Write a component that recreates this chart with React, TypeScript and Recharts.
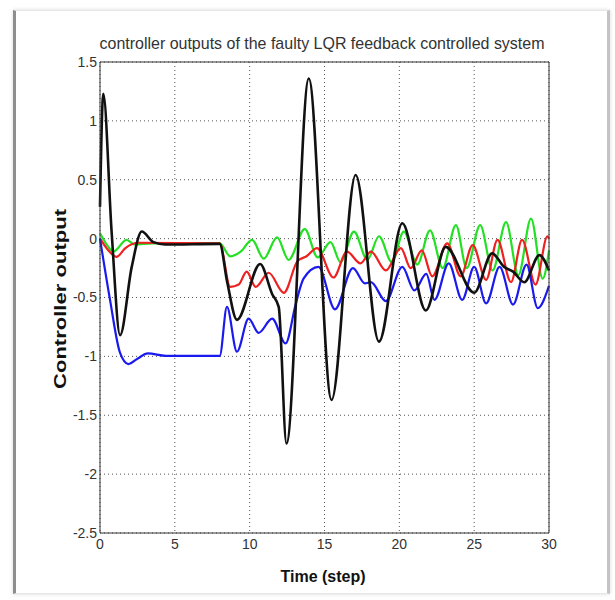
import { CartesianGrid, Line, LineChart, XAxis, YAxis } from "recharts";

// tick values
const xTicks = [0, 5, 10, 15, 20, 25, 30];
const yTicks = [-2.5, -2, -1.5, -1, -0.5, 0, 0.5, 1, 1.5];

// series (time step -> controller output)
const blackX = [0, 0.22, 0.78, 1.34, 2.12, 2.79, 3.57, 4.35, 8.0, 8.5, 9.15, 10.7, 11.5, 11.94, 12.46, 13.95, 15.47, 17.08, 18.64, 20.2, 21.77, 23.1, 25.0, 26.2, 27.0, 27.6, 28.35, 29.36, 30];
const blackY = [0.27, 1.23, 0.05, -0.82, -0.24, 0.06, -0.03, -0.05, -0.045, -0.37, -0.69, -0.215, -0.47, -0.58, -1.74, 1.36, -1.37, 0.54, -0.875, 0.13, -0.61, -0.07, -0.46, -0.125, -0.24, -0.28, -0.37, -0.14, -0.27];

const blueX = [0, 0.67, 1.34, 1.9, 2.5, 3.2, 4.4, 8.0, 8.48, 9.15, 9.93, 10.6, 11.5, 12.4, 13.07, 13.6, 14.6, 15.7, 16.9, 17.7, 18.1, 19.1, 20.2, 21.0, 21.8, 22.35, 23.3, 24.2, 25.0, 25.8, 26.7, 27.6, 28.5, 29.25, 30];
const blueY = [0, -0.52, -0.97, -1.065, -1.02, -0.975, -0.995, -0.995, -0.58, -0.96, -0.68, -0.8, -0.68, -0.89, -0.56, -0.34, -0.24, -0.6, -0.25, -0.38, -0.37, -0.53, -0.24, -0.44, -0.3, -0.52, -0.21, -0.52, -0.24, -0.55, -0.24, -0.56, -0.22, -0.59, -0.4];

const redX = [0, 0.5, 1.1, 1.7, 2.57, 8.0, 8.7, 9.27, 9.8, 10.4, 11.27, 12.28, 13.2, 13.8, 14.5, 15.6, 16.5, 17.4, 18.1, 19.1, 20.1, 20.76, 21.5, 22.2, 23.2, 24.1, 24.9, 25.8, 26.56, 27.46, 28.2, 29.1, 29.9, 30];
const redY = [0, -0.09, -0.155, -0.08, -0.035, -0.04, -0.41, -0.39, -0.28, -0.41, -0.29, -0.46, -0.19, -0.15, -0.08, -0.33, -0.11, -0.21, -0.11, -0.27, -0.08, -0.25, -0.1, -0.32, -0.04, -0.32, -0.055, -0.35, -0.01, -0.37, -0.01, -0.39, 0.02, 0];

const greenX = [0, 0.5, 0.9, 1.78, 2.3, 3.5, 8.0, 8.7, 9.4, 10.16, 10.94, 11.83, 12.6, 13.68, 14.55, 15.4, 16.07, 16.97, 17.86, 18.64, 19.5, 20.3, 21.2, 22.05, 22.9, 23.78, 24.5, 25.4, 26.23, 27.13, 27.95, 28.8, 29.58, 30];
const greenY = [0.045, -0.06, -0.11, -0.01, -0.05, -0.04, -0.04, -0.15, -0.11, -0.01, -0.17, 0.01, -0.18, 0.08, -0.16, -0.03, -0.2, 0.06, -0.18, 0.02, -0.2, 0.06, -0.22, 0.07, -0.25, 0.115, -0.25, 0.115, -0.27, 0.14, -0.31, 0.17, -0.34, -0.1];

const zip = (xs: number[], ys: number[]) => xs.map((x, i) => ({ x, y: ys[i] }));

const tickFont = { fontFamily: "Liberation Sans, Arial, sans-serif", fontSize: 14, fill: "#333" };

export default function App() {
  return (
    <div style={{ position: "absolute", left: 0, top: 0, width: 615, height: 600, background: "#fff" }}>
      {/* page frame */}
      <div
        style={{
          position: "absolute",
          left: 13,
          top: 10,
          width: 591,
          height: 582,
          borderLeft: "3px solid #8e8e8e",
          borderRight: "3px solid #c4c4c4",
          borderTop: "1px solid #e6e6e6",
          borderBottom: "1px solid #e6e6e6",
          boxShadow: "0 0 4px rgba(0,0,0,0.15)",
        }}
      />
      <div style={{ position: "absolute", left: 0, top: 0 }}>
        <LineChart width={615} height={600} margin={{ top: 62, right: 66, bottom: 37, left: 60 }}>
          <CartesianGrid stroke="#555" strokeDasharray="1 3" />
          <XAxis
            dataKey="x"
            type="number"
            domain={[0, 30]}
            ticks={xTicks}
            height={30}
            tickLine={false}
            tickSize={0}
            tickMargin={6}
            axisLine={{ stroke: "#333" }}
            tick={tickFont}
            allowDuplicatedCategory={false}
          />
          <YAxis
            type="number"
            domain={[-2.5, 1.5]}
            ticks={yTicks}
            width={40}
            tickLine={false}
            tickSize={0}
            tickMargin={3}
            axisLine={{ stroke: "#333" }}
            tick={tickFont}
          />
          {/* inward tick marks on all four sides, matlab style */}
          <XAxis xAxisId="b2" type="number" domain={[0, 30]} ticks={xTicks} mirror height={1} tick={false} tickSize={5} axisLine={false} tickLine={{ stroke: "#333" }} />
          <XAxis xAxisId="t" orientation="top" type="number" domain={[0, 30]} ticks={xTicks} mirror height={1} tick={false} tickSize={5} axisLine={{ stroke: "#333" }} tickLine={{ stroke: "#333" }} />
          <YAxis yAxisId="l2" type="number" domain={[-2.5, 1.5]} ticks={yTicks} mirror width={1} tick={false} tickSize={5} axisLine={false} tickLine={{ stroke: "#333" }} />
          <YAxis yAxisId="r" orientation="right" type="number" domain={[-2.5, 1.5]} ticks={yTicks} mirror width={1} tick={false} tickSize={5} axisLine={{ stroke: "#333" }} tickLine={{ stroke: "#333" }} />

          <Line data={zip(greenX, greenY)} dataKey="y" type="monotone" stroke="#22e022" strokeWidth={2.2} dot={false} isAnimationActive={false} />
          <Line data={zip(redX, redY)} dataKey="y" type="monotone" stroke="#ee2020" strokeWidth={2.2} dot={false} isAnimationActive={false} />
          <Line data={zip(blueX, blueY)} dataKey="y" type="monotone" stroke="#1a1aee" strokeWidth={2.2} dot={false} isAnimationActive={false} />
          <Line data={zip(blackX, blackY)} dataKey="y" type="monotone" stroke="#111" strokeWidth={2.6} dot={false} isAnimationActive={false} />
        </LineChart>
      </div>
      <svg width={615} height={600} style={{ position: "absolute", left: 0, top: 0, pointerEvents: "none" }}>
        <text x={322} y={49} textAnchor="middle" fontFamily="Liberation Sans, Arial, sans-serif" fontSize={17} fill="#333" textLength={445} lengthAdjust="spacingAndGlyphs">
          controller outputs of the faulty LQR feedback controlled system
        </text>
        <text x={323} y={582} textAnchor="middle" fontFamily="Liberation Sans, Arial, sans-serif" fontWeight="bold" fontSize={16} fill="#111">
          Time (step)
        </text>
        <text
          x={0}
          y={0}
          transform="translate(66 299) rotate(-90)"
          textAnchor="middle"
          fontFamily="Liberation Sans, Arial, sans-serif"
          fontWeight="bold"
          fontSize={17}
          fill="#111"
          textLength={180}
          lengthAdjust="spacingAndGlyphs"
        >
          Controller output
        </text>
      </svg>
    </div>
  );
}
